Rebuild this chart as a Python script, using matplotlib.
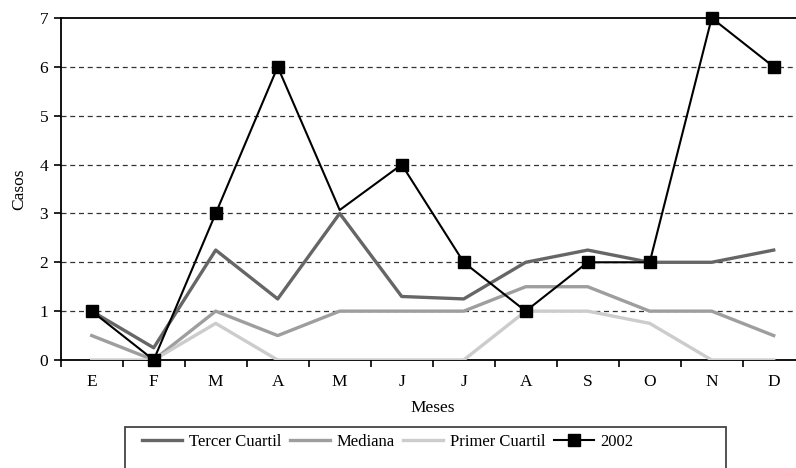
import matplotlib
matplotlib.use("Agg")
import matplotlib.pyplot as plt
from matplotlib.patches import Rectangle
from matplotlib.lines import Line2D

months = ["E", "F", "M", "A", "M", "J", "J", "A", "S", "O", "N", "D"]
tercer_cuartil = [1.0, 0.25, 2.25, 1.25, 3.0, 1.3, 1.25, 2.0, 2.25, 2.0, 2.0, 2.25]
mediana = [0.5, 0.0, 1.0, 0.5, 1.0, 1.0, 1.0, 1.5, 1.5, 1.0, 1.0, 0.5]
primer_cuartil = [0.0, 0.0, 0.75, 0.0, 0.0, 0.0, 0.0, 1.0, 1.0, 0.75, 0.0, 0.0]
y2002 = [1, 0, 3, 6, 3.07, 4, 2, 1, 2, 2, 7, 6]
yticks = [0, 1, 2, 3, 4, 5, 6, 7]

plt.rcParams['font.family'] = ['Liberation Serif', 'DejaVu Serif']
FS = 12.5

W, H = 796, 468
fig = plt.figure(figsize=(W / 100, H / 100), dpi=100)
left, right, top, bottom = 60.7, 804.7, 18, 360
ax = fig.add_axes([left / W, 1 - bottom / H, (right - left) / W, (bottom - top) / H])

x = list(range(len(months)))
ax.plot(x, tercer_cuartil, color="#666666", lw=2.4, zorder=3)
ax.plot(x, mediana, color="#9e9e9e", lw=2.4, zorder=3)
ax.plot(x, primer_cuartil, color="#cccccc", lw=2.4, zorder=3)
marks = [i for i in x if i != 4]
ax.plot(x, y2002, color="black", lw=1.5, marker="s", markersize=9, markevery=marks, zorder=4, clip_on=False)

ax.set_xlim(-0.5, 11.5)
ax.set_ylim(0, 7)
ax.set_yticks(yticks)
ax.set_xticks(x)
ax.set_xticklabels(months)
ax.set_xticks([i + 0.5 for i in range(-1, 12)], minor=True)
ax.tick_params(axis="x", which="major", length=0, labelsize=FS, pad=10)
ax.tick_params(axis="x", which="minor", length=5, width=1.2, direction="out")
ax.tick_params(axis="y", length=5, width=1.2, labelsize=FS, pad=4)
for y in yticks[1:7]:
    ax.axhline(y, color="#333333", lw=0.9, ls=(0, (4, 3)), zorder=1)
for s in ["left", "bottom", "top"]:
    ax.spines[s].set_linewidth(1.3)
ax.spines["right"].set_visible(False)

ax.set_ylabel("Casos", fontsize=FS, labelpad=9)
ax.set_xlabel("Meses", fontsize=FS, labelpad=7)

fig.patches.append(Rectangle((125 / W, 1 - 480 / H), (726 - 125) / W, (480 - 427) / H,
                             transform=fig.transFigure, fill=False, edgecolor="#444444",
                             lw=1.3, clip_on=False))
handles = [
    Line2D([], [], color="#666666", lw=2.4),
    Line2D([], [], color="#9e9e9e", lw=2.4),
    Line2D([], [], color="#cccccc", lw=2.4),
    Line2D([], [], color="black", lw=1.5, marker="s", markersize=9),
]
labels = ["Tercer Cuartil", "Mediana", "Primer Cuartil", "2002"]
fig.legend(handles, labels, loc="center", bbox_to_anchor=(388 / W, 1 - 442 / H),
           ncol=4, frameon=False, fontsize=12, handlelength=2.4, handletextpad=0.42,
           columnspacing=0.48)

fig.savefig("out.png", dpi=100)
